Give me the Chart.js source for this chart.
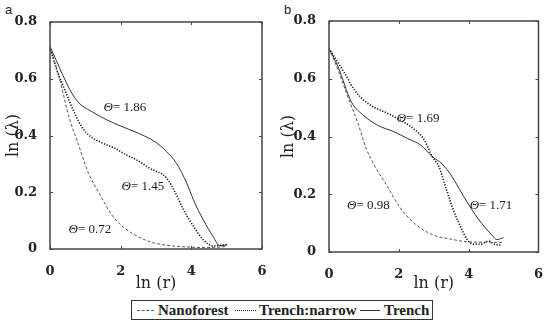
<!DOCTYPE html>
<html>
<head>
  <meta charset="UTF-8">
  <title>ln(lambda) vs ln(r)</title>
  <script src="https://cdn.jsdelivr.net/npm/chart.js"></script>
  <style>
    body {
      margin: 0;
      background: #fff;
      width: 550px;
      height: 326px;
      position: relative;
      overflow: hidden;
      color: #222;
    }
    .panel { position: absolute; top: 0; }
    .tag {
      position: absolute;
      top: 2px;
      font-family: 'Liberation Sans', Arial, sans-serif;
      font-size: 13px;
    }
    .legend {
      position: absolute;
      left: 131px;
      top: 300px;
      width: 302px;
      height: 20px;
      border: 1px solid #333;
      box-sizing: border-box;
      font-family: 'Liberation Serif', serif;
      font-weight: bold;
      font-size: 15px;
      white-space: nowrap;
    }
    .legend span { position: absolute; }
    .legend .txt { top: 0px; line-height: 18px; }
    .legend .smp { top: 9px; width: 17px; height: 0; }
  </style>
</head>
<body>
  <div class="tag" style="left:5px">a</div>
  <div class="tag" style="left:284px">b</div>
  <canvas id="chartA" class="panel" style="left:0" width="275" height="297"></canvas>
  <canvas id="chartB" class="panel" style="left:275px" width="275" height="297"></canvas>

  <div class="legend">
    <span class="smp" style="left:5px;border-top:1px dashed #555"></span>
    <span class="txt" style="left:26px">Nanoforest</span>
    <span class="smp" style="left:103px;width:21px;border-top:1.5px dotted #222"></span>
    <span class="txt" style="left:127px">Trench:narrow</span>
    <span class="smp" style="left:228px;width:20px;border-top:1px solid #333"></span>
    <span class="txt" style="left:252px">Trench</span>
  </div>

  <script>
    // panel a
    const aNanoX = [0, 0.25, 0.55, 0.8, 1.08, 1.42, 1.75, 2.12, 2.69, 3.2, 3.77, 4.4, 4.95];
    const aNanoY = [0.713, 0.61, 0.46, 0.37, 0.27, 0.19, 0.12, 0.073, 0.032, 0.015, 0.008, 0.005, 0.008];
    const aNarrowX = [0, 0.14, 0.42, 0.71, 0.9, 1.13, 1.46, 1.84, 2.17, 2.45, 2.83, 3.3, 3.58, 3.77, 4.06, 4.34, 4.62, 5.0];
    const aNarrowY = [0.713, 0.65, 0.56, 0.475, 0.43, 0.398, 0.375, 0.355, 0.331, 0.314, 0.284, 0.25, 0.19, 0.14, 0.08, 0.032, 0.011, 0.016];
    const aTrenchX = [0, 0.71, 1.27, 1.93, 2.5, 2.97, 3.3, 3.58, 3.87, 4.06, 4.34, 4.62, 4.81, 5.0];
    const aTrenchY = [0.713, 0.531, 0.478, 0.437, 0.408, 0.378, 0.343, 0.302, 0.232, 0.173, 0.102, 0.043, 0.011, 0.014];

    // panel b
    const bNanoX = [0, 0.26, 0.54, 0.83, 1.06, 1.3, 1.68, 2.0, 2.44, 3.0, 3.43, 4.0, 4.5, 4.95];
    const bNanoY = [0.705, 0.63, 0.537, 0.445, 0.36, 0.3, 0.225, 0.16, 0.1, 0.058, 0.046, 0.035, 0.034, 0.033];
    const bNarrowX = [0, 0.45, 0.73, 1.11, 1.78, 2.44, 2.72, 2.96, 3.15, 3.34, 3.53, 3.77, 3.96, 4.14, 4.34, 4.57, 4.76, 4.95];
    const bNarrowY = [0.705, 0.619, 0.561, 0.515, 0.474, 0.425, 0.39, 0.33, 0.295, 0.225, 0.156, 0.087, 0.043, 0.027, 0.027, 0.038, 0.026, 0.024];
    const bTrenchX = [0, 0.26, 0.64, 0.92, 1.39, 1.87, 2.25, 2.63, 2.96, 3.24, 3.53, 3.81, 4.1, 4.38, 4.67, 4.81, 5.0];
    const bTrenchY = [0.705, 0.641, 0.52, 0.48, 0.439, 0.416, 0.393, 0.37, 0.33, 0.305, 0.26, 0.202, 0.145, 0.098, 0.058, 0.043, 0.05];

    const xTicks = [0, 2, 4, 6];
    const yTicks = [0, 0.2, 0.4, 0.6, 0.8];

    const pts = (xs, ys) => xs.map((x, i) => ({ x: x, y: ys[i] }));

    // box round the plot with small inward ticks, matlab style
    const framePlugin = {
      id: 'frame',
      afterDatasetsDraw(chart) {
        const { ctx, chartArea: a, scales: { x, y } } = chart;
        ctx.save();
        ctx.strokeStyle = '#444';
        ctx.lineWidth = 1.5;
        ctx.strokeRect(a.left, a.top, a.right - a.left, a.bottom - a.top);
        ctx.lineWidth = 1;
        ctx.beginPath();
        xTicks.forEach(v => {
          const px = Math.round(x.getPixelForValue(v)) + 0.5;
          ctx.moveTo(px, a.bottom); ctx.lineTo(px, a.bottom - 3);
          ctx.moveTo(px, a.top); ctx.lineTo(px, a.top + 3);
        });
        yTicks.forEach(v => {
          const py = Math.round(y.getPixelForValue(v)) + 0.5;
          ctx.moveTo(a.left, py); ctx.lineTo(a.left + 3, py);
          ctx.moveTo(a.right, py); ctx.lineTo(a.right - 3, py);
        });
        ctx.stroke();
        ctx.restore();
      }
    };

    // theta labels next to the curves
    const notesPlugin = {
      id: 'notes',
      afterDatasetsDraw(chart, args, opts) {
        const { ctx, scales: { x, y } } = chart;
        ctx.save();
        ctx.fillStyle = '#222';
        ctx.textBaseline = 'middle';
        (opts.items || []).forEach(n => {
          const px = x.getPixelForValue(n.x);
          const py = y.getPixelForValue(n.y);
          ctx.font = 'italic 13px "Liberation Serif"';
          const w1 = ctx.measureText('Θ').width;
          ctx.font = '13px "Liberation Serif"';
          const rest = '= ' + n.text;
          const w2 = ctx.measureText(rest).width;
          const x0 = px - (w1 + w2) / 2;
          ctx.font = 'italic 13px "Liberation Serif"';
          ctx.fillText('Θ', x0, py);
          ctx.font = '13px "Liberation Serif"';
          ctx.fillText(rest, x0 + w1, py);
        });
        ctx.restore();
      }
    };

    function makeChart(id, series, box, notes) {
      const ctx = document.getElementById(id).getContext('2d');
      return new Chart(ctx, {
        type: 'line',
        data: {
          datasets: [
            { label: 'Nanoforest', data: pts(series[0], series[1]), borderColor: '#555', borderWidth: 1, borderDash: [3, 2] },
            { label: 'Trench:narrow', data: pts(series[2], series[3]), borderColor: '#111', borderWidth: 1.6, borderDash: [1.2, 1.6] },
            { label: 'Trench', data: pts(series[4], series[5]), borderColor: '#333', borderWidth: 1 }
          ]
        },
        options: {
          responsive: false,
          animation: false,
          datasets: { line: { pointRadius: 0, fill: false, cubicInterpolationMode: 'monotone' } },
          layout: { padding: { left: 0, top: box.top, right: box.right, bottom: 0 } },
          scales: {
            x: {
              type: 'linear',
              min: 0,
              max: 6,
              afterFit: s => { s.height = box.xh; },
              afterBuildTicks: s => { s.ticks = xTicks.map(v => ({ value: v })); },
              grid: { display: false },
              border: { display: false },
              ticks: { padding: 7, color: '#222', font: { family: 'DejaVu Serif', weight: 'bold', size: 13 } },
              title: { display: true, text: 'ln (r)', color: '#222', font: { family: 'DejaVu Serif', size: 16 } }
            },
            y: {
              min: 0,
              max: 0.8,
              afterFit: s => { s.width = box.yw; },
              afterBuildTicks: s => { s.ticks = yTicks.map(v => ({ value: v })); },
              grid: { display: false },
              border: { display: false },
              ticks: {
                padding: 5,
                color: '#222',
                font: { family: 'DejaVu Serif', weight: 'bold', size: 13 },
                callback: v => v === 0 ? '0' : v.toFixed(1)
              },
              title: { display: true, text: 'ln (λ)', color: '#222', font: { family: 'DejaVu Serif', size: 16 } }
            }
          },
          plugins: {
            legend: { display: false },
            tooltip: { enabled: false },
            notes: { items: notes }
          }
        },
        plugins: [framePlugin, notesPlugin]
      });
    }

    makeChart('chartA',
      [aNanoX, aNanoY, aNarrowX, aNarrowY, aTrenchX, aTrenchY],
      { top: 22, right: 13, xh: 48, yw: 50 },
      [
        { x: 2.12, y: 0.497, text: '1.86' },
        { x: 2.63, y: 0.22, text: '1.45' },
        { x: 1.13, y: 0.069, text: '0.72' }
      ]);

    makeChart('chartB',
      [bNanoX, bNanoY, bNarrowX, bNarrowY, bTrenchX, bTrenchY],
      { top: 21, right: 10, xh: 45, yw: 54 },
      [
        { x: 2.55, y: 0.463, text: '1.69' },
        { x: 1.13, y: 0.162, text: '0.98' },
        { x: 4.64, y: 0.162, text: '1.71' }
      ]);
  </script>
</body>
</html>
